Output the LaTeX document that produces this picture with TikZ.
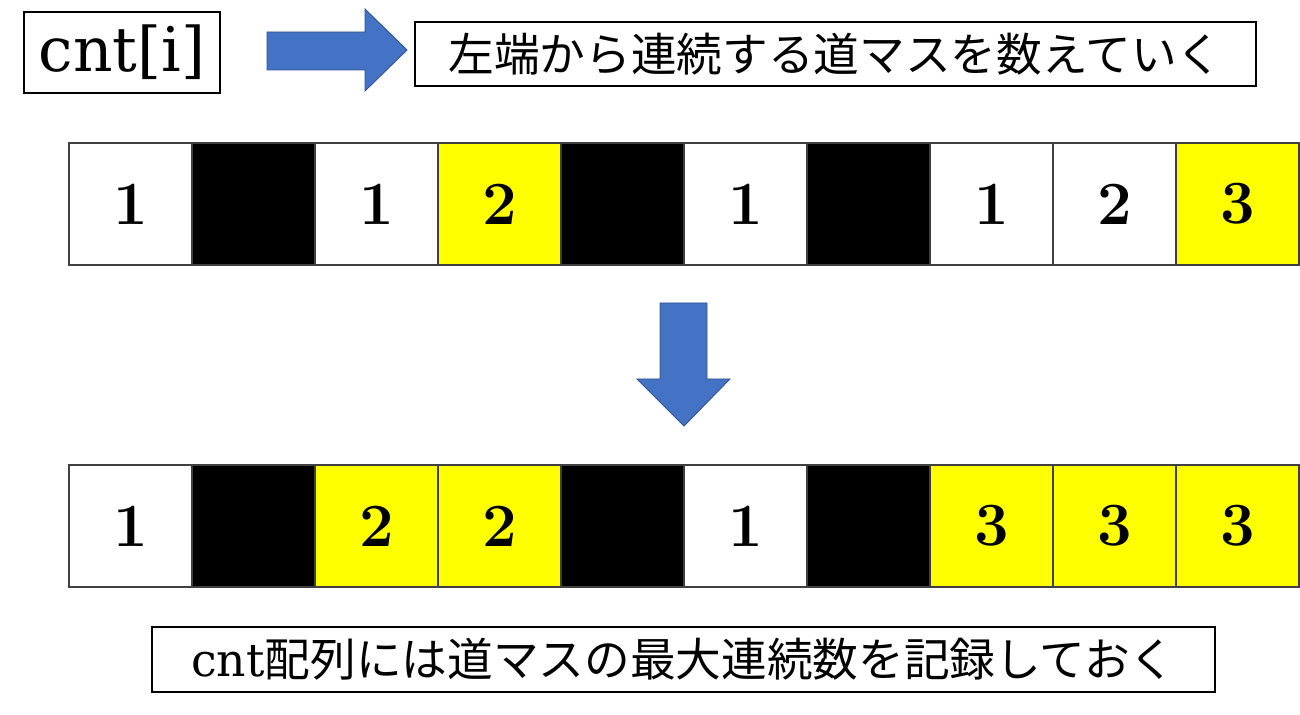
\documentclass[tikz,border=0pt]{standalone}
\usepackage{fontspec}
\newfontfamily\jpfont{Noto Sans CJK JP}
\newfontfamily\latinfont{DejaVu Serif}
\definecolor{arrowblue}{HTML}{4472C4}
\definecolor{arrowedge}{HTML}{2F528F}
\definecolor{cellyellow}{HTML}{FFFF00}

\begin{document}
\begin{tikzpicture}[x=0.02cm, y=-0.02cm,
    cell/.style={draw=black!75, line width=0.6pt, minimum width=2.46cm, minimum height=2.44cm, inner sep=0pt, font=\fontsize{35}{40}\selectfont\bfseries},
    road/.style={cell, fill=white},
    wall/.style={cell, fill=black},
    best/.style={cell, fill=cellyellow},
    textbox/.style={draw, line width=0.9pt, inner sep=0pt},
    blockarrow/.style={fill=arrowblue, draw=arrowedge, line width=0.5pt}]
    \useasboundingbox (0,0) rectangle (1300,715);

    % Header
    \node[textbox, minimum width=3.92cm, minimum height=1.62cm, font=\latinfont\fontsize{35}{42}\selectfont] (cnt) at (122,52.5) {cnt[i]};
    \node[textbox, minimum width=16.82cm, minimum height=1.28cm, font=\jpfont\fontsize{26}{30}\selectfont] (count) at (835.5,54) {左端から連続する道マスを数えていく};
    \filldraw[blockarrow] (267,32) -- (365,32) -- (365,9) -- (407,50) -- (365,91) -- (365,70) -- (267,70) -- cycle;

    % Counting row
    \foreach \kind/\num [count=\i] in {road/1, wall/{}, road/1, best/2, wall/{}, road/1, wall/{}, road/1, road/2, best/3}
        \node[style=\kind] (top\i) at ({130.5+123*(\i-1)}, 204) {\num};

    \filldraw[blockarrow] (660,303) -- (707,303) -- (707,379) -- (730,379) -- (684,426) -- (637,379) -- (660,379) -- cycle;

    % Result row
    \foreach \kind/\num [count=\i] in {road/1, wall/{}, best/2, best/2, wall/{}, road/1, wall/{}, best/3, best/3, best/3}
        \node[style=\kind] (bot\i) at ({130.5+123*(\i-1)}, 526) {\num};

    % Note
    \node[textbox, minimum width=21.26cm, minimum height=1.30cm, font=\fontsize{26}{30}\selectfont] (note) at (683.5,659.5) {{\latinfont cnt}{\jpfont 配列には道マスの最大連続数を記録しておく}};
\end{tikzpicture}
\end{document}
